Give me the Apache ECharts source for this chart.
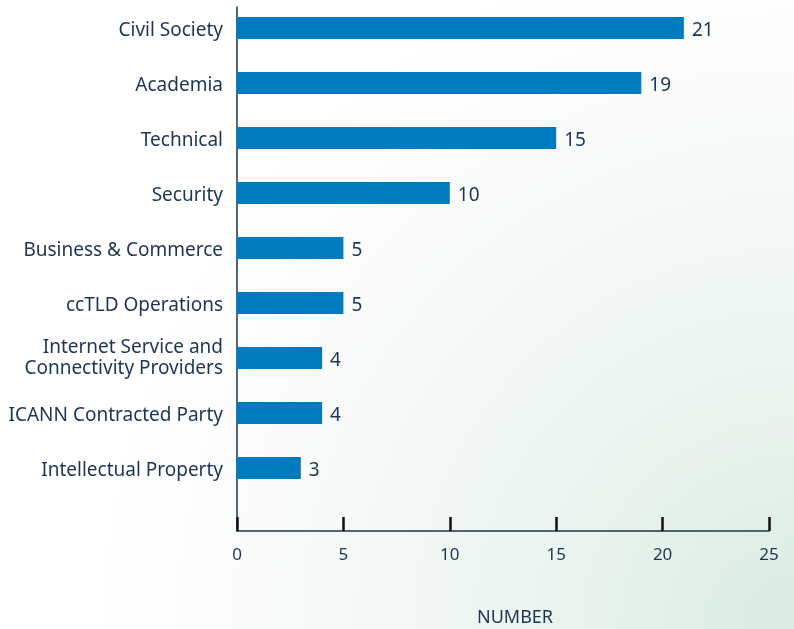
<!DOCTYPE html>
<html>
<head>
    <meta charset="utf-8">
    <title>Stakeholder groups</title>
    <script src="https://cdn.jsdelivr.net/npm/echarts@6/dist/echarts.min.js"></script>
    <style>
        html, body { margin: 0; padding: 0; }
    </style>
</head>
<body>
<div id="main" style="width: 794px;height:629px;"></div>
<script type="text/javascript">
    // data
    const categories = [
        'Civil Society',
        'Academia',
        'Technical',
        'Security',
        'Business & Commerce',
        'ccTLD Operations',
        'Internet Service and\nConnectivity Providers',
        'ICANN Contracted Party',
        'Intellectual Property'
    ];
    const counts = [21, 19, 15, 10, 5, 5, 4, 4, 3];
    const xTicks = [0, 5, 10, 15, 20, 25];

    const textColor = '#1c3553';
    const font = 'Noto Sans';

    let myChart = echarts.init(document.getElementById('main'));

    myChart.setOption({
        backgroundColor: {
            type: 'radial',
            x: 1, y: 1, r: 1.1,
            colorStops: [
                { offset: 0, color: '#d8ece1' },
                { offset: 0.35, color: '#eaf4ee' },
                { offset: 0.75, color: '#f8fbf9' },
                { offset: 1, color: '#ffffff' }
            ]
        },
        textStyle: { fontFamily: font },
        grid: [
            // bars
            { left: 237, right: 25, top: 0.5, height: 495, outerBoundsMode: 'none' },
            // frame with axes
            { left: 237, right: 25, top: 7, bottom: 98, outerBoundsMode: 'none' }
        ],
        xAxis: [
            {
                gridIndex: 0, type: 'value', min: 0, max: 25,
                show: false
            },
            {
                gridIndex: 1, type: 'value', min: 0, max: 25, interval: 5,
                name: 'NUMBER',
                nameLocation: 'middle',
                nameGap: 78,
                nameTextStyle: { color: textColor, fontSize: 18, fontFamily: font, padding: [0, 0, 0, 24] },
                axisLine: { show: true, lineStyle: { color: textColor, width: 1.5 } },
                axisTick: { show: true, inside: true, length: 14, lineStyle: { color: '#111111', width: 2.5 } },
                axisLabel: {
                    color: textColor, fontSize: 17, margin: 16, fontFamily: font,
                    formatter: function (v) { return xTicks.indexOf(v) >= 0 ? String(v) : ''; }
                },
                splitLine: { show: false }
            }
        ],
        yAxis: [
            {
                gridIndex: 0, type: 'category', inverse: true,
                data: categories,
                axisLine: { show: false },
                axisTick: { show: false },
                axisLabel: {
                    margin: 14, align: 'right',
                    formatter: function (v) {
                        // single lines sit a little lower, two-line labels stay centred
                        let lines = v.split('\n');
                        let style = lines.length > 1 ? 'm' : 't';
                        return lines.map(function (s) { return '{' + style + '|' + s + '}'; }).join('\n');
                    },
                    rich: {
                        t: {
                            color: textColor, fontSize: 19, fontFamily: font,
                            lineHeight: 15, padding: [6, 0, 0, 0]
                        },
                        m: {
                            color: textColor, fontSize: 19, fontFamily: font,
                            lineHeight: 21
                        }
                    }
                }
            },
            {
                gridIndex: 1, type: 'value',
                axisLine: { show: true, lineStyle: { color: textColor, width: 1.5 } },
                axisTick: { show: false },
                axisLabel: { show: false },
                splitLine: { show: false }
            }
        ],
        series: [
            {
                type: 'bar',
                xAxisIndex: 0,
                yAxisIndex: 0,
                data: counts,
                barWidth: 22,
                itemStyle: { color: '#007bc1' },
                label: {
                    show: true,
                    position: 'right',
                    distance: 8,
                    offset: [0, 3],
                    color: textColor,
                    fontSize: 19,
                    fontFamily: font
                },
                silent: true
            }
        ]
    });
</script>
</body>
</html>
